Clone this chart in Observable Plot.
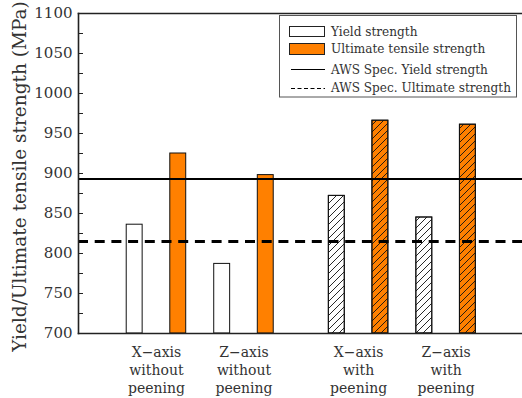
<!DOCTYPE html>
<html><head><meta charset="utf-8">
<script src="https://cdn.jsdelivr.net/npm/d3@7"></script>
<script src="https://cdn.jsdelivr.net/npm/@observablehq/plot@0.6"></script>
<style>body{margin:0;background:#fff;} svg{display:block;}</style>
</head><body><div id="chart"></div>
<script>
const groupLabels = ["X−axis\nwithout\npeening", "Z−axis\nwithout\npeening", "X−axis\nwith\npeening", "Z−axis\nwith\npeening"];
const groupPos = [1, 2, 3.31, 4.31];
const yieldStrength = [836, 787, 872, 845];
const ultimateStrength = [925, 898, 966, 961];
const peened = [false, false, true, true];
const awsYield = 893;
const awsUltimate = 815;
const yLabelTicks = [700, 750, 800, 850, 900, 950, 1000, 1050, 1100];
const yMinorTicks = [700, 725, 750, 775, 800, 825, 850, 875, 900, 925, 950, 975, 1000, 1025, 1050, 1075, 1100];
const legendItems = ["Yield strength", "Ultimate tensile strength", "AWS Spec. Yield strength", "AWS Spec. Ultimate strength"];
const seriesColors = {yield: "#ffffff", uts: "#ff8000"};

const OFF = 0.249, HALF = 0.091;
const bars = groupPos.flatMap((p, i) => [
  {pos: p, type: "yield", value: yieldStrength[i], peened: peened[i]},
  {pos: p, type: "uts", value: ultimateStrength[i], peened: peened[i]}
]);
const bx1 = d => d.pos + (d.type === "yield" ? -OFF : OFF) - HALF;
const bx2 = d => d.pos + (d.type === "yield" ? -OFF : OFF) + HALF;

const chart = Plot.plot({
  width: 522, height: 398,
  marginLeft: 78, marginRight: 0, marginTop: 13, marginBottom: 65,
  style: {fontFamily: "DejaVu Serif", color: "#222", background: "#fff"},
  x: {domain: [0.109, 5.183], axis: null},
  y: {domain: [700, 1100], axis: null},
  color: {domain: Object.keys(seriesColors), range: Object.values(seriesColors)},
  marks: [
    Plot.rect(bars, {x1: bx1, x2: bx2, y1: 700, y2: "value", fill: d => d.type, stroke: "#111", strokeWidth: 1}),
    Plot.rect(bars.filter(d => d.peened), {x1: bx1, x2: bx2, y1: 700, y2: "value", fill: "url(#hatch)", stroke: "#111", strokeWidth: 1}),
    Plot.ruleY([awsYield], {stroke: "#000", strokeWidth: 2}),
    Plot.ruleY([awsUltimate], {stroke: "#000", strokeWidth: 3.2, strokeDasharray: "10,6.7"}),
    Plot.frame({anchor: "top", strokeWidth: 1.6}),
    Plot.frame({anchor: "bottom", strokeWidth: 1.6}),
    Plot.frame({anchor: "left", strokeWidth: 1.6}),
    Plot.axisY({ticks: yMinorTicks, tickSize: 5, dx: 5, tickFormat: () => "", strokeWidth: 1, label: null}),
    Plot.axisY({ticks: yLabelTicks, tickSize: 0, tickPadding: 6, fontSize: 15, tickFormat: d => String(d), label: null, fill: "#333"}),
    Plot.text([0], {frameAnchor: "left", dx: -58, dy: 3, rotate: -90, textAnchor: "middle", text: () => "Yield/Ultimate tensile strength (MPa)", fontSize: 18.5, fill: "#333"}),
    Plot.text(groupLabels, {x: (d, i) => groupPos[i], y: 700, text: d => d, lineAnchor: "top", dy: 11, lineHeight: 1.29, fontSize: 14, fill: "#333"})
  ]
});

const svg = d3.select(chart);
const defs = svg.insert("defs", ":first-child");
const pat = defs.append("pattern").attr("id", "hatch").attr("patternUnits", "userSpaceOnUse")
  .attr("width", 7).attr("height", 7);
pat.append("path").attr("d", "M0,7L7,0M-1,1L1,-1M6,8L8,6").attr("stroke", "#111").attr("stroke-width", 0.9).attr("fill", "none");

// legend (inside the plot)
const lg = svg.append("g").attr("font-family", "DejaVu Serif").attr("font-size", 12.1).attr("fill", "#333").attr("text-anchor", "start");
lg.append("rect").attr("x", 279.5).attr("y", 15.5).attr("width", 237).attr("height", 81.5)
  .attr("fill", "#fff").attr("stroke", "#555").attr("stroke-width", 1);
const rowY = [31.5, 49, 69.5, 88];
lg.append("rect").attr("x", 289.5).attr("y", 26.5).attr("width", 35).attr("height", 10)
  .attr("fill", seriesColors.yield).attr("stroke", "#222");
lg.append("rect").attr("x", 289.5).attr("y", 43.5).attr("width", 35).attr("height", 11)
  .attr("fill", seriesColors.uts).attr("stroke", "#222");
lg.append("line").attr("x1", 291).attr("x2", 325).attr("y1", 69.5).attr("y2", 69.5).attr("stroke", "#000").attr("stroke-width", 1.2);
lg.append("line").attr("x1", 291).attr("x2", 325).attr("y1", 88.5).attr("y2", 88.5).attr("stroke", "#000").attr("stroke-width", 1.2).attr("stroke-dasharray", "4,2.5");
legendItems.forEach((t, i) => {
  lg.append("text").attr("x", 331).attr("y", rowY[i]).attr("dy", "0.35em").text(t);
});

document.getElementById("chart").append(chart);
</script>
</body></html>
